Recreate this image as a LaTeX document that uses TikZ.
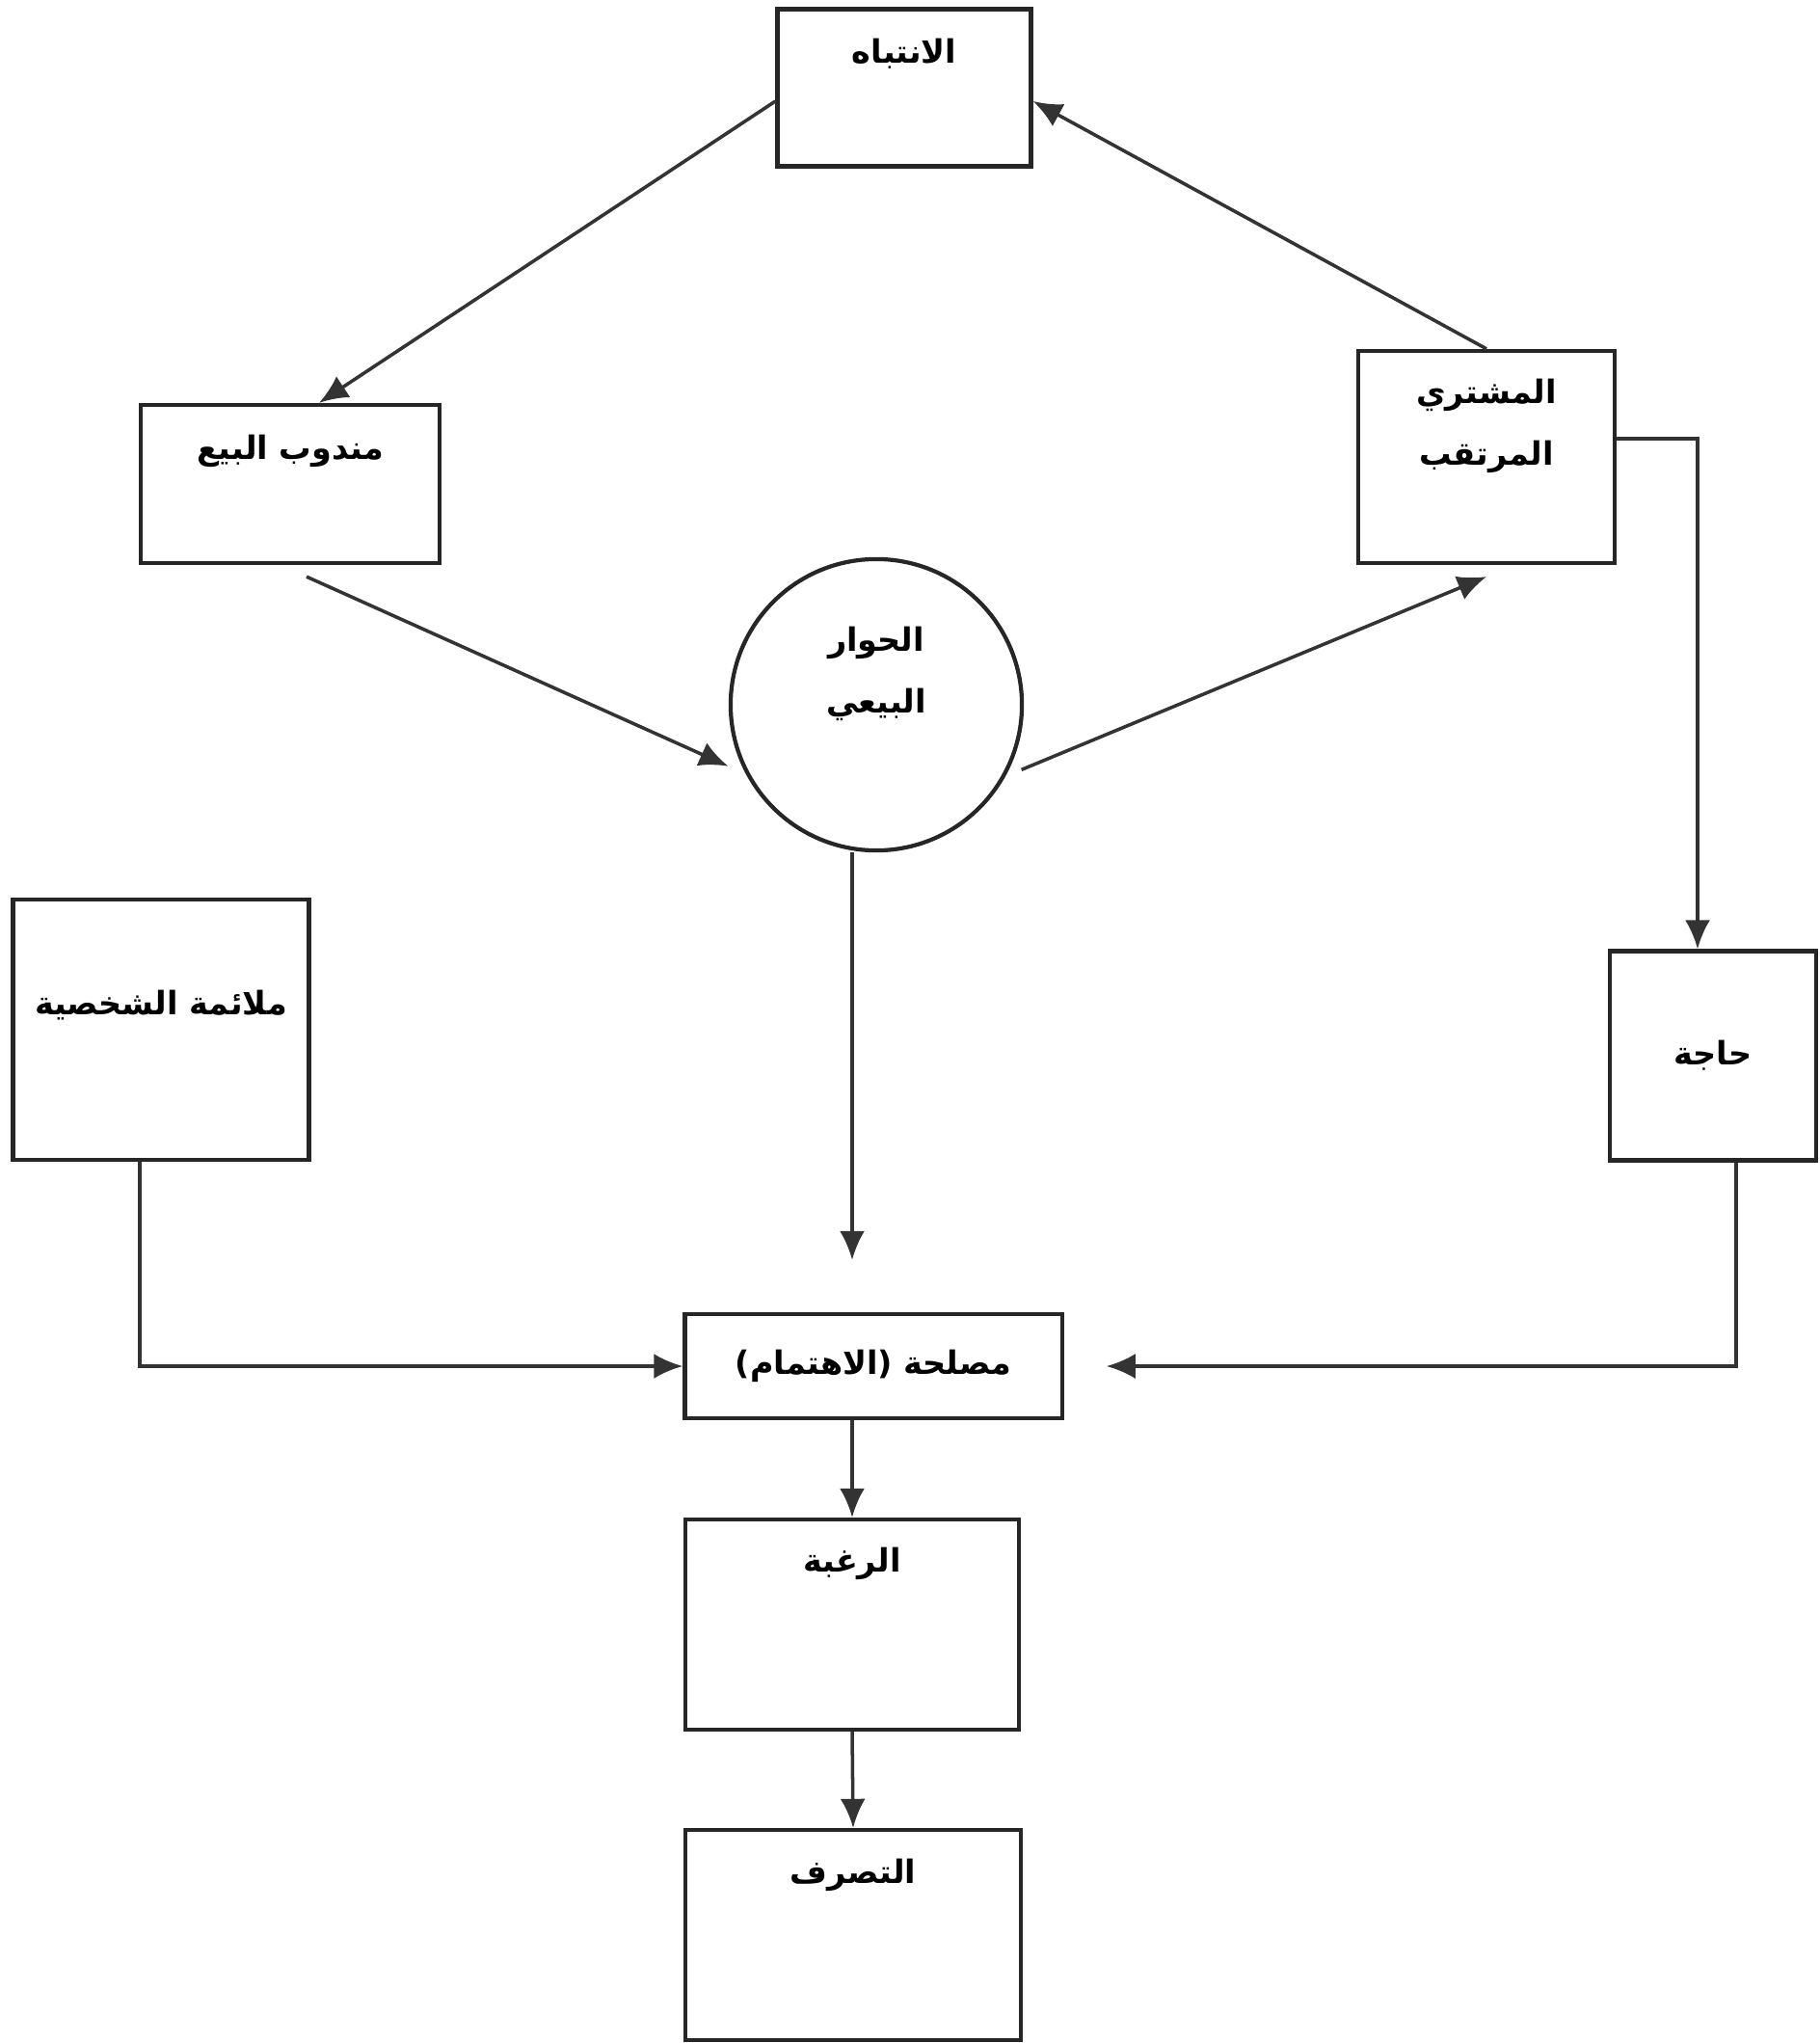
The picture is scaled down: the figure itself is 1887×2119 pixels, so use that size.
\documentclass[tikz,border=0pt]{standalone}
\usepackage{fontspec}
\usetikzlibrary{arrows.meta}
\TeXXeTstate=1
\newfontfamily\arabicfont[Script=Arabic]{DejaVu Sans}
\begin{document}
\begin{tikzpicture}[x=0.01cm, y=-0.01cm,
        box/.style={rectangle, draw=black!85, line width=1.2pt},
        txt/.style={anchor=center, align=center, font=\arabicfont\bfseries\fontsize{9.5}{18}\selectfont},
        arr/.style={draw=black!80, line width=1pt, -{Latex[length=0.3cm, width=0.26cm]}}]
            \useasboundingbox (0, 0) rectangle (1887, 2119);

            \node[box, minimum width=2.63cm, minimum height=1.63cm, label={[txt, yshift=-0.48cm]north:{\beginR الانتباه\endR}}] at (938, 91) (att) {};
            \node[box, minimum width=3.1cm, minimum height=1.64cm, label={[txt, yshift=-0.5cm]north:{\beginR مندوب البيع\endR}}] at (301, 502) (rep) {};
            \node[box, minimum width=2.66cm, minimum height=2.2cm, label={[txt, yshift=-0.8cm]north:{\beginR المشتري\endR\\\beginR المرتقب\endR}}] at (1542, 474) (buyer) {};

            \node[circle, draw=black!85, line width=1.2pt, minimum size=3.02cm, label={[txt, yshift=0.32cm]center:{\beginR الحوار\endR\\\beginR البيعي\endR}}] at (909, 731) (talk) {};

            \node[box, minimum width=3.07cm, minimum height=2.7cm, label={[txt, yshift=-1.12cm]north:{\beginR ملائمة الشخصية\endR}}] at (167, 1068) (fit) {};
            \node[box, minimum width=2.14cm, minimum height=2.17cm, label={[txt]center:{\beginR حاجة\endR}}] at (1777, 1095) (need) {};

            \node[box, minimum width=3.91cm, minimum height=1.08cm, label={[txt]center:{\beginR مصلحة (الاهتمام)\endR}}] at (906, 1417) (interest) {};
            \node[box, minimum width=3.46cm, minimum height=2.18cm, label={[txt, yshift=-0.48cm]north:{\beginR الرغبة\endR}}] at (884, 1685) (desire) {};
            \node[box, minimum width=3.48cm, minimum height=2.18cm, label={[txt, yshift=-0.49cm]north:{\beginR التصرف\endR}}] at (885, 2007) (act) {};

            \draw[arr]([yshift=-0.14cm]att.west) -- ([xshift=0.3cm]rep.north);
            \draw[arr](buyer.north) -- ([yshift=-0.14cm]att.east);

            \draw[arr, shorten >=0.2cm]([xshift=0.17cm, yshift=-0.12cm]rep.south) -- (talk.208);
            \draw[arr, shorten <=0.18cm](talk.331) -- ([yshift=-0.12cm]buyer.south);
            \draw[arr, shorten >=0.54cm](desire.north |- talk.south) -- (desire.north |- interest.north);

            \draw[arr]([yshift=0.19cm]buyer.east) -| ([xshift=-0.16cm]need.north);
            \draw[arr]([xshift=-0.22cm]fit.south) |- (interest.west);
            \draw[arr, shorten >=0.44cm]([xshift=0.24cm]need.south) |- (interest.east);

            \draw[arr](desire.north |- interest.south) -- (desire.north);
            \draw[arr](desire.south) -- (act.north);
        \end{tikzpicture}
\end{document}
